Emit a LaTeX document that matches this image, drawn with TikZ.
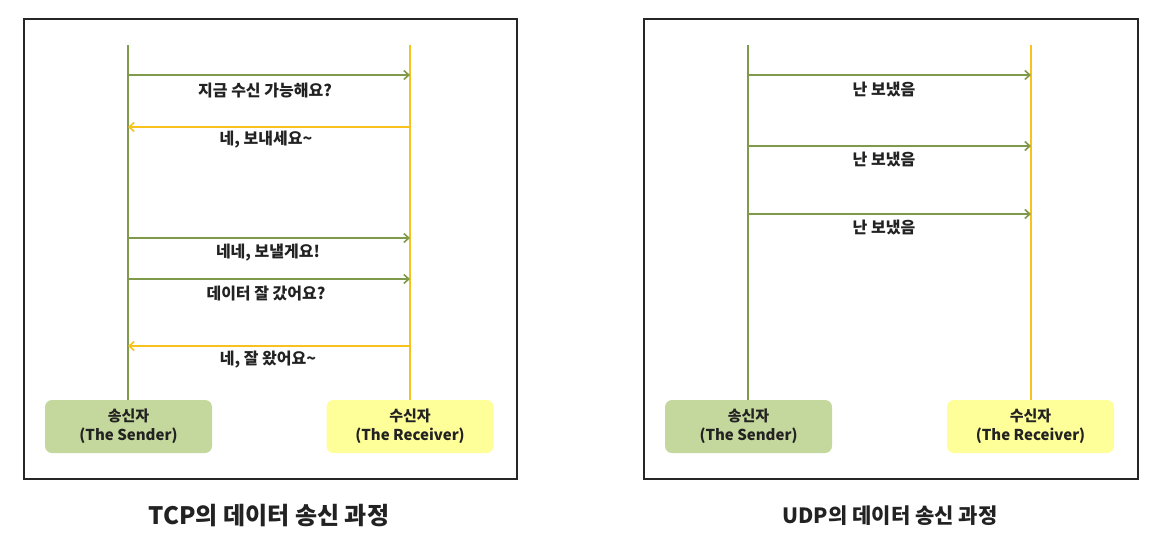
\documentclass[tikz,border=0pt]{standalone}
\usepackage{fontspec}
\setmainfont{Noto Sans CJK KR}
\usetikzlibrary{arrows.meta}
\definecolor{lgreen}{HTML}{7E9A4A}
\definecolor{lyellow}{HTML}{F8C21C}
\definecolor{sfill}{HTML}{C4D79C}
\definecolor{rfill}{HTML}{FFFF99}
\definecolor{txt}{HTML}{222222}
\begin{document}
\begin{tikzpicture}[x=1pt,y=-1pt,
  frame/.style={draw=black!85,line width=1.6pt},
  life/.style={line width=1.8pt},
  msg/.style={line width=1.8pt,-{Straight Barb[length=5pt,width=9pt,line width=1.6pt]}},
  lbl/.style={text=txt,font=\fontsize{16}{19}\selectfont\bfseries,inner sep=0pt},
  actor/.style={rounded corners=7pt,minimum width=167pt,minimum height=53pt,align=center,text=txt,inner sep=0pt,font=\fontsize{15}{19}\selectfont\bfseries},
  sbox/.style={actor,fill=sfill},
  rbox/.style={actor,fill=rfill},
  captext/.style={text=txt,inner sep=0pt}]
\useasboundingbox (0,0) rectangle (1161,544);
\fill[white] (0,0) rectangle (1161,544);

% ---------- TCP ----------
\node[frame,minimum width=493pt,minimum height=460pt,inner sep=0pt] (tcpframe) at (270.5,249) {};
\node[sbox] (ts) at (128.5,426.5) {송신자\\(The Sender)};
\node[rbox] (tr) at (410,426.5) {수신자\\(The Receiver)};
\coordinate (tstop) at (128,45);
\coordinate (trtop) at (410,45);
\draw[life,lgreen] (tstop) -- (tstop |- ts.north);
\draw[life,lyellow] (trtop) -- (trtop |- tr.north);

\coordinate (ts1) at (128,75);  \coordinate (tr1) at (410,75);
\coordinate (ts2) at (128,127); \coordinate (tr2) at (410,127);
\coordinate (ts3) at (128,238); \coordinate (tr3) at (410,238);
\coordinate (ts4) at (128,279); \coordinate (tr4) at (410,279);
\coordinate (ts5) at (128,346); \coordinate (tr5) at (410,346);
\draw[msg,lgreen] (ts1) -- (tr1);
\draw[msg,lyellow] (tr2) -- (ts2);
\draw[msg,lgreen] (ts3) -- (tr3);
\draw[msg,lgreen] (ts4) -- (tr4);
\draw[msg,lyellow] (tr5) -- (ts5);
\node[lbl] (tl1) at (265,90) {지금 수신 가능해요?};
\node[lbl] (tl2) at (266,140) {네, 보내세요\textasciitilde};
\node[lbl] (tl3) at (268,253) {네네, 보낼게요!};
\node[lbl] (tl4) at (266,294) {데이터 잘 갔어요?};
\node[lbl] (tl5) at (268,360) {네, 잘 왔어요\textasciitilde};

\node[captext,font=\fontsize{24}{27}\selectfont\bfseries] (tcpcap) at (269,516) {TCP의 데이터 송신 과정};

% ---------- UDP ----------
\node[frame,minimum width=494pt,minimum height=460pt,inner sep=0pt] (udpframe) at (891,249) {};
\node[sbox] (us) at (748.5,426.5) {송신자\\(The Sender)};
\node[rbox] (ur) at (1030.5,426.5) {수신자\\(The Receiver)};
\coordinate (ustop) at (748,45);
\coordinate (urtop) at (1031,45);
\draw[life,lgreen] (ustop) -- (ustop |- us.north);
\draw[life,lyellow] (urtop) -- (urtop |- ur.north);

\coordinate (us1) at (748,75);  \coordinate (ur1) at (1031,75);
\coordinate (us2) at (748,146); \coordinate (ur2) at (1031,146);
\coordinate (us3) at (748,214); \coordinate (ur3) at (1031,214);
\draw[msg,lgreen] (us1) -- (ur1);
\draw[msg,lgreen] (us2) -- (ur2);
\draw[msg,lgreen] (us3) -- (ur3);
\node[lbl] (ul1) at (884,90) {난 보냈음};
\node[lbl] (ul2) at (884,160) {난 보냈음};
\node[lbl] (ul3) at (884,228) {난 보냈음};

\node[captext,font=\fontsize{21}{24}\selectfont\bfseries] (udpcap) at (890,516) {UDP의 데이터 송신 과정};
\end{tikzpicture}
\end{document}
